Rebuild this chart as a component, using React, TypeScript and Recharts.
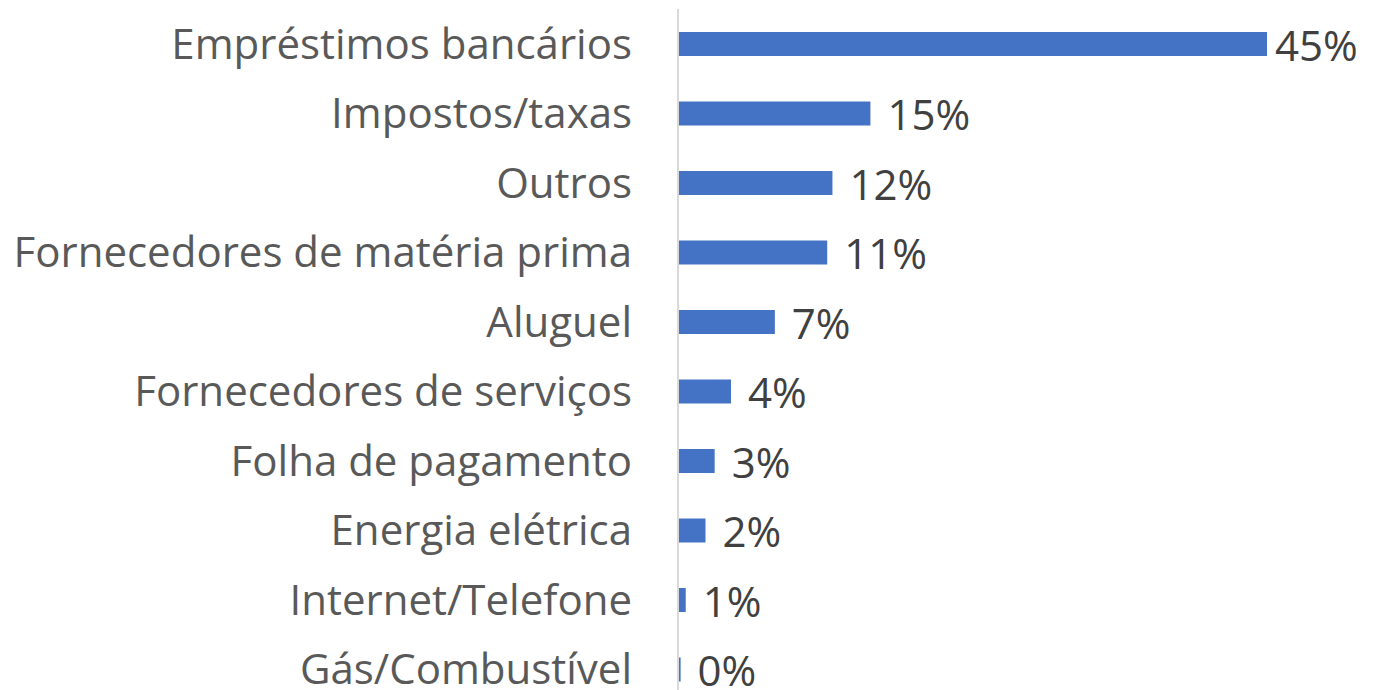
import React from 'react';
import { BarChart, Bar, XAxis, YAxis, LabelList } from 'recharts';

const categories = [
  'Empréstimos bancários',
  'Impostos/taxas',
  'Outros',
  'Fornecedores de matéria prima',
  'Aluguel',
  'Fornecedores de serviços',
  'Folha de pagamento',
  'Energia elétrica',
  'Internet/Telefone',
  'Gás/Combustível',
];
const values = [45, 14.7, 11.8, 11.4, 7.4, 4.05, 2.8, 2.1, 0.59, 0.2];
const valueLabels = ['45%', '15%', '12%', '11%', '7%', '4%', '3%', '2%', '1%', '0%'];

const data = categories.map((name, i) => ({ name, value: values[i], label: valueLabels[i] }));

const FONT = '"Open Sans", Lato, sans-serif';

const ValueLabel = (props: any) => {
  const { x, y, width, height, index } = props;
  const off = index === 0 ? 8 : 17;
  return (
    <text
      x={x + width + off}
      y={y + height / 2}
      dominantBaseline="central"
      textAnchor="start"
      fill="#404040"
      fontSize={42}
      fontFamily={FONT}
    >
      {valueLabels[index]}
    </text>
  );
};

export default function App() {
  return (
    <div style={{ position: 'absolute', left: 0, top: 0, background: '#fff' }}>
      <BarChart
        width={1386}
        height={704}
        data={data}
        layout="vertical"
        margin={{ top: 9, right: 119, bottom: 0, left: 0 }}
        barSize={24}
      >
        <XAxis type="number" domain={[0, 45]} hide />
        <YAxis
          type="category"
          dataKey="name"
          width={678}
          axisLine={{ stroke: '#d9d9d9', strokeWidth: 2 }}
          tickLine={false}
          tickSize={0}
          tickMargin={46}
          interval={0}
          tick={{ fill: '#595959', fontSize: 42, fontFamily: FONT }}
        />
        <Bar dataKey="value" fill="#4472c4" isAnimationActive={false}>
          <LabelList dataKey="value" content={ValueLabel} />
        </Bar>
      </BarChart>
    </div>
  );
}
